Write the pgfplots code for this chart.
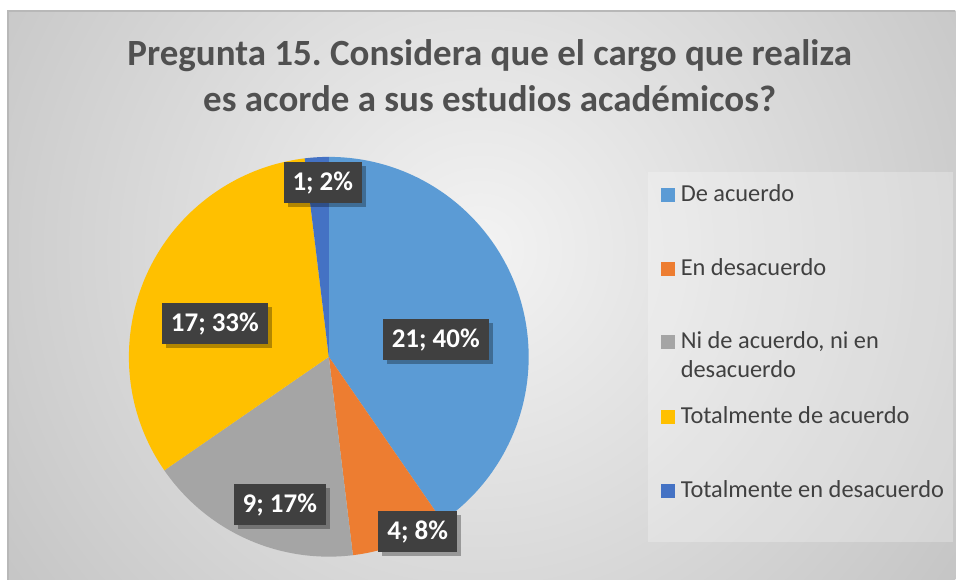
\documentclass[border=0pt]{standalone}
\usepackage{pgfplots}
\pgfplotsset{compat=1.18}
\usepackage{pgfplotstable}
\usepackage{fontspec}
\setmainfont{Carlito}
\frenchspacing
\usetikzlibrary{shadows}
\definecolor{c0}{HTML}{5B9BD5}
\definecolor{c1}{HTML}{ED7D31}
\definecolor{c2}{HTML}{A5A5A5}
\definecolor{c3}{HTML}{FFC000}
\definecolor{c4}{HTML}{4472C4}
\definecolor{titlec}{HTML}{505050}
\definecolor{legc}{HTML}{404040}
\definecolor{lblbg}{HTML}{404040}
\definecolor{bgin}{HTML}{F3F3F3}
\definecolor{bgout}{HTML}{C2C2C2}

\pgfplotstableread{
value pct lx ly
21 40 436 340
4 8 418 532
9 17 280 505
17 33 215 324
1 2 323 183
}\piedata

\begin{document}
\begin{tikzpicture}
\begin{axis}[hide axis, scale only axis, width=956bp, height=580bp,
  xmin=0, xmax=956, ymin=0, ymax=580, y dir=reverse, clip=false]
\path (axis cs:0,0) rectangle (axis cs:956,580);
% background
\begin{scope}
\clip (axis cs:8,11) rectangle (axis cs:956,580);
\shade[inner color=bgin, outer color=bgout] (axis cs:480,250) circle[radius=620bp];
\end{scope}
\draw[white!72!black, line width=1.2bp] (axis cs:8,580) -- (axis cs:8,11) -- (axis cs:956,11);
% title
\node[anchor=base, text=titlec, font=\fontsize{37bp}{44bp}\selectfont\bfseries]
  at (axis cs:490,66) {Pregunta 15. Considera que el cargo que realiza};
\node[anchor=base, text=titlec, font=\fontsize{37bp}{44bp}\selectfont\bfseries]
  at (axis cs:490,112) {es acorde a sus estudios académicos?};
% legend box
\fill[white, opacity=0.25] (axis cs:648,172) rectangle (axis cs:954,542);
% pie
\pgfmathsetmacro{\total}{0}
\pgfplotsforeachungrouped \i in {0,...,4}{%
  \pgfplotstablegetelem{\i}{value}\of\piedata
  \pgfmathsetmacro{\total}{\total+\pgfplotsretval}%
}
\pgfmathsetmacro{\cumul}{0}
\pgfplotsforeachungrouped \i in {0,...,4}{%
  \pgfplotstablegetelem{\i}{value}\of\piedata
  \let\vv\pgfplotsretval
  \pgfmathsetmacro{\sa}{90-\cumul/\total*360}%
  \pgfmathsetmacro{\sb}{90-(\cumul+\vv)/\total*360}%
  \edef\temp{\noexpand\fill[c\i] (axis cs:329,357) -- ++(\sa:200bp) arc[start angle=\sa, end angle=\sb, radius=200bp] -- cycle;}%
  \temp
  \pgfmathsetmacro{\cumul}{\cumul+\vv}%
}
% data labels
\pgfplotsforeachungrouped \i in {0,...,4}{%
  \pgfplotstablegetelem{\i}{value}\of\piedata \let\vv\pgfplotsretval
  \pgfplotstablegetelem{\i}{pct}\of\piedata \let\pp\pgfplotsretval
  \pgfplotstablegetelem{\i}{lx}\of\piedata \let\lx\pgfplotsretval
  \pgfplotstablegetelem{\i}{ly}\of\piedata \let\ly\pgfplotsretval
  \edef\temp{\noexpand\node[fill=lblbg, text=white, inner xsep=9bp, minimum height=41bp,
    font=\noexpand\fontsize{27bp}{30bp}\noexpand\selectfont\noexpand\bfseries,
    drop shadow={shadow xshift=4bp, shadow yshift=-4bp, fill=black, opacity=0.3}]
    at (axis cs:\lx,\ly) {\vv; \pp\noexpand\%};}%
  \temp
}
% legend entries
\fill[c0] (axis cs:661,188) rectangle (axis cs:675,202);
\node[anchor=base west, inner sep=0pt, text=legc, font=\fontsize{24.4bp}{28bp}\selectfont] at (axis cs:681,202) {De acuerdo};
\fill[c1] (axis cs:661,262) rectangle (axis cs:675,276);
\node[anchor=base west, inner sep=0pt, text=legc, font=\fontsize{24.4bp}{28bp}\selectfont] at (axis cs:681,276) {En desacuerdo};
\fill[c2] (axis cs:661,335) rectangle (axis cs:675,349);
\node[anchor=base west, inner sep=0pt, text=legc, font=\fontsize{24.4bp}{28bp}\selectfont] at (axis cs:681,349) {Ni de acuerdo, ni en};
\node[anchor=base west, inner sep=0pt, text=legc, font=\fontsize{24.4bp}{28bp}\selectfont] at (axis cs:681,378) {desacuerdo};
\fill[c3] (axis cs:661,410) rectangle (axis cs:675,424);
\node[anchor=base west, inner sep=0pt, text=legc, font=\fontsize{24.4bp}{28bp}\selectfont] at (axis cs:681,424) {Totalmente de acuerdo};
\fill[c4] (axis cs:661,484) rectangle (axis cs:675,498);
\node[anchor=base west, inner sep=0pt, text=legc, font=\fontsize{24.4bp}{28bp}\selectfont] at (axis cs:681,498) {Totalmente en desacuerdo};
\end{axis}
\end{tikzpicture}
\end{document}
